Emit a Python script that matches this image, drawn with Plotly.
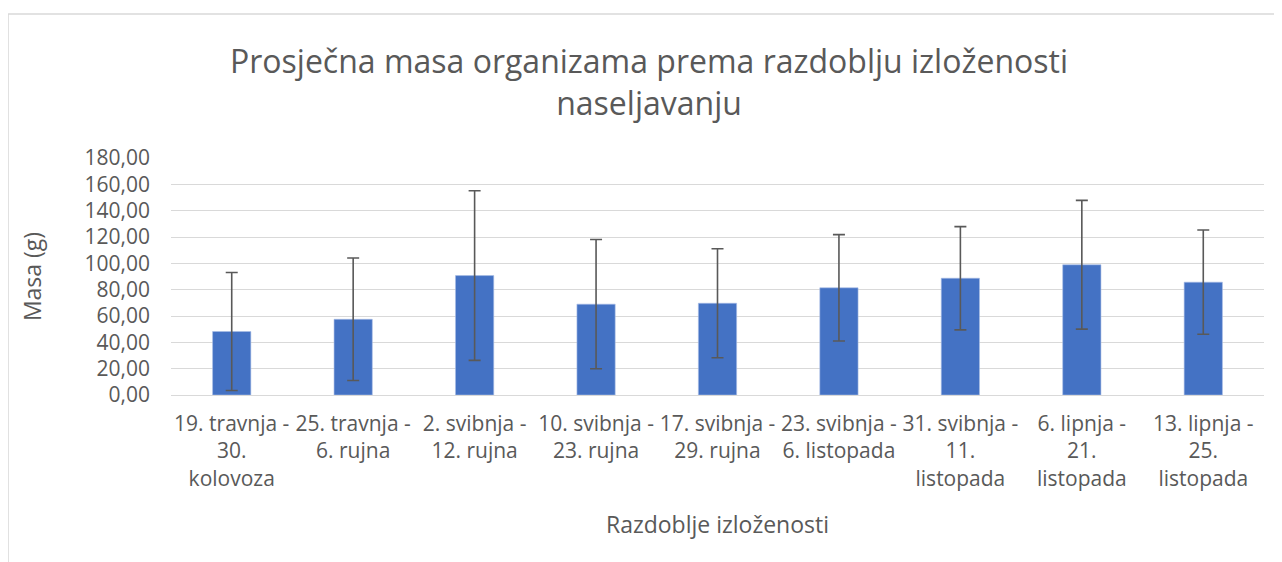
import plotly.graph_objects as go

# razdoblja izloženosti (kategorije na x osi)
periods = [
    "19. travnja -<br>30.<br>kolovoza",
    "25. travnja -<br>6. rujna",
    "2. svibnja -<br>12. rujna",
    "10. svibnja -<br>23. rujna",
    "17. svibnja -<br>29. rujna",
    "23. svibnja -<br>6. listopada",
    "31. svibnja -<br>11.<br>listopada",
    "6. lipnja -<br>21.<br>listopada",
    "13. lipnja -<br>25.<br>listopada",
]
# prosječna masa (g) i standardna devijacija
mean_mass = [48.2, 57.5, 90.7, 69.0, 69.7, 81.4, 88.7, 98.9, 85.7]
sd_mass = [44.8, 46.5, 64.4, 49.1, 41.4, 40.4, 39.2, 48.9, 39.6]
y_ticks = [0, 20, 40, 60, 80, 100, 120, 140, 160, 180]

grey_text = "#595959"
border = "#D9D9D9"

fig = go.Figure()
fig.add_trace(
    go.Bar(
        x=periods,
        y=mean_mass,
        marker=dict(color="#4472C4", line=dict(color="#A9BDE6", width=0.6)),
        error_y=dict(type="data", array=sd_mass, visible=True,
                     color="#595959", thickness=1.6, width=6),
    )
)

# okvir grafikona (gornji i lijevi rub kao na slici)
fig.add_shape(type="line", xref="paper", yref="paper",
              x0=-0.1491, x1=1.05, y0=1.6076, y1=1.6076,
              line=dict(color=border, width=1.5))
fig.add_shape(type="line", xref="paper", yref="paper",
              x0=-0.1491, x1=-0.1491, y0=-0.8, y1=1.6076,
              line=dict(color=border, width=1.5))

fig.update_layout(
    width=1282, height=562,
    margin=dict(l=163, r=26, t=150, b=175),
    paper_bgcolor="white", plot_bgcolor="white",
    separators=", ",
    showlegend=False,
    bargap=0.685,
    font=dict(family="Open Sans", color=grey_text),
    title=dict(
        text="Prosječna masa organizama prema razdoblju izloženosti<br>naseljavanju",
        x=0.5, xanchor="center", y=0.884, yanchor="middle",
        font=dict(size=32, color=grey_text),
    ),
    xaxis=dict(
        title=dict(text="Razdoblje izloženosti", font=dict(size=23), standoff=26),
        tickfont=dict(size=21), ticklabelstandoff=14,
        showgrid=False, showline=False, ticks="",
        tickangle=0,
    ),
    yaxis=dict(
        title=dict(text="Masa (g)", font=dict(size=23), standoff=36),
        range=[0, 180], tickvals=y_ticks, tickformat=".2f",
        tickfont=dict(size=21), ticklabelstandoff=20,
        gridcolor=border, gridwidth=1.2,
        zeroline=True, zerolinecolor=border, zerolinewidth=1.2,
        showline=False, ticks="",
    ),
)

fig.write_html("out.html")
